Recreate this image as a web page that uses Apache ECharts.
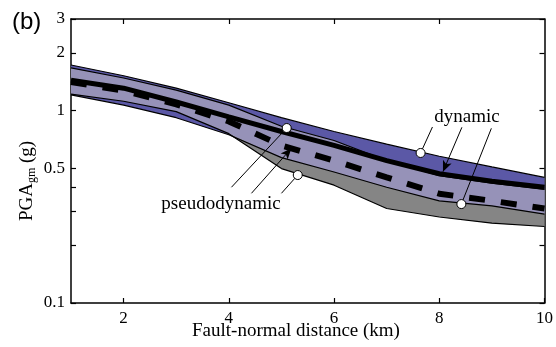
<!DOCTYPE html>
<html>
<head>
<meta charset="utf-8">
<script src="https://cdn.jsdelivr.net/npm/echarts@6/dist/echarts.min.js"></script>
<style>
html,body{margin:0;padding:0;background:#fff;}
#chart{width:556px;height:347px;}
</style>
</head>
<body>
<div id="chart"></div>
<script>
// fault-normal distance (km)
var distKm = [1, 2, 3, 4, 5, 6, 7, 8, 9, 10];
// PGA gm (g) bands
var dynUpper     = [1.73, 1.52, 1.31, 1.10, 0.92, 0.78, 0.67, 0.58, 0.51, 0.45];
var dynMedian    = [1.44, 1.31, 1.11, 0.93, 0.78, 0.66, 0.55, 0.47, 0.43, 0.40];
var dynLower     = [1.21, 1.07, 0.92, 0.75, 0.57, 0.48, 0.40, 0.34, 0.32, 0.29];
var pseudoUpper  = [1.67, 1.48, 1.28, 1.07, 0.83, 0.70, 0.55, 0.46, 0.42, 0.39];
var pseudoMedian = [1.41, 1.27, 1.08, 0.88, 0.66, 0.55, 0.45, 0.37, 0.34, 0.31];
var pseudoLower  = [1.22, 1.12, 0.99, 0.76, 0.50, 0.41, 0.31, 0.28, 0.26, 0.25];

var xTicks = [2, 4, 6, 8, 10];
var yTicks = [0.1, 0.2, 0.3, 0.4, 0.5, 1, 2, 3];
var yLabels = [0.1, 0.5, 1, 2, 3];

// little open circles on the curves
var markerX = [5.10, 5.31, 7.645, 8.42];
var markerY = [0.813, 0.463, 0.603, 0.327];

// annotation lines: [x1, y1, x2, y2, arrow]
var pointerLines = [
  [7.87, 0.823, 7.645, 0.603, 0],
  [8.43, 0.82, 8.07, 0.482, 1],
  [8.99, 0.81, 8.42, 0.327, 0],
  [4.05, 0.400, 5.10, 0.813, 0],
  [4.43, 0.372, 5.19, 0.638, 1],
  [5.00, 0.372, 5.31, 0.463, 0]
];

var blue = '#5b58a6';
var lavender = '#9692b8';
var grey = '#858585';
var serif = 'Liberation Serif';

var overlapUpper = dynUpper.map(function(v, i){ return Math.min(v, pseudoUpper[i]); });
var overlapLower = dynLower.map(function(v, i){ return Math.max(v, pseudoLower[i]); });

function pairs(ys){
  return distKm.map(function(x, i){ return [x, ys[i]]; });
}

function band(upper, lower, color, z){
  return {
    type: 'custom',
    silent: true,
    z: z,
    data: [[1, 1]],
    renderItem: function(params, api){
      var pts = [];
      for (var i = 0; i < distKm.length; i++) pts.push(api.coord([distKm[i], upper[i]]));
      for (var j = distKm.length - 1; j >= 0; j--) pts.push(api.coord([distKm[j], lower[j]]));
      return {type: 'polygon', shape: {points: pts}, style: {fill: color, stroke: null}};
    }
  };
}

function edge(ys, width, dash, z){
  return {
    type: 'line',
    data: pairs(ys),
    symbol: 'none',
    silent: true,
    z: z,
    lineStyle: {color: '#000', width: width, type: dash || 'solid', cap: 'butt'}
  };
}

var tickStyle = {color: '#000', width: 1.2};
var lineStyle = {color: '#000', width: 1.5};

var myChart = echarts.init(document.getElementById('chart'));
var option = {
  animation: false,
  grid: {left: 71, right: 11, top: 19, bottom: 44},
  xAxis: [
    {
      type: 'value', min: 1, max: 10, position: 'bottom',
      axisLine: {lineStyle: lineStyle},
      axisTick: {inside: true, length: 5, customValues: xTicks, lineStyle: tickStyle},
      axisLabel: {customValues: xTicks, color: '#000', fontFamily: serif, fontSize: 17, margin: 7},
      splitLine: {show: false}
    },
    {
      type: 'value', min: 1, max: 10, position: 'top',
      axisLine: {lineStyle: lineStyle},
      axisTick: {inside: true, length: 5, customValues: [2, 4, 6, 8], lineStyle: tickStyle},
      axisLabel: {show: false},
      splitLine: {show: false}
    }
  ],
  yAxis: [
    {
      type: 'log', logBase: 10, min: 0.1, max: 3, position: 'left',
      axisLine: {lineStyle: lineStyle},
      axisTick: {inside: true, length: 5, customValues: yTicks, lineStyle: tickStyle},
      axisLabel: {
        customValues: yLabels, color: '#000', fontFamily: serif, fontSize: 17, margin: 6,
        formatter: function(v){ return String(parseFloat(Number(v).toPrecision(3))); }
      },
      splitLine: {show: false},
      minorTick: {show: false}
    },
    {
      type: 'log', logBase: 10, min: 0.1, max: 3, position: 'right',
      axisLine: {lineStyle: lineStyle},
      axisTick: {inside: true, length: 5, customValues: yTicks, lineStyle: tickStyle},
      axisLabel: {show: false},
      splitLine: {show: false}
    }
  ],
  series: [
    band(dynUpper, dynLower, blue, 1),
    band(pseudoUpper, pseudoLower, grey, 1),
    band(overlapUpper, overlapLower, lavender, 2),
    edge(dynUpper, 1.2, null, 3),
    edge(pseudoUpper, 1.2, null, 3),
    edge(dynLower, 1.2, null, 3),
    edge(pseudoLower, 1.2, null, 3),
    edge(dynMedian, 5, null, 4),
    edge(pseudoMedian, 6, [16, 16], 5),
    {
      type: 'scatter',
      z: 8,
      silent: true,
      data: markerX.map(function(x, i){ return [x, markerY[i]]; }),
      symbol: 'circle',
      symbolSize: 9,
      itemStyle: {color: '#fff', borderColor: '#000', borderWidth: 1, opacity: 1},
      markLine: {
        silent: true,
        symbol: ['none', 'none'],
        symbolSize: [7, 11],
        label: {show: false},
        lineStyle: {color: '#000', width: 1, type: 'solid'},
        data: pointerLines.map(function(p){
          return [
            {coord: [p[0], p[1]], symbol: 'none'},
            {coord: [p[2], p[3]], symbol: p[4] ? 'arrow' : 'none'}
          ];
        })
      }
    }
  ],
  graphic: [
    {type: 'text', left: 12, top: 10, style: {text: '(b)', fontFamily: 'Liberation Sans', fontSize: 24, fill: '#000'}},
    {type: 'text', x: 467, y: 117, style: {text: 'dynamic', fontFamily: serif, fontSize: 19, fill: '#000', align: 'center', verticalAlign: 'middle'}},
    {type: 'text', x: 221, y: 204, style: {text: 'pseudodynamic', fontFamily: serif, fontSize: 19, fill: '#000', align: 'center', verticalAlign: 'middle'}},
    {type: 'text', x: 296, y: 331, style: {text: 'Fault-normal distance (km)', fontFamily: serif, fontSize: 19, fill: '#000', align: 'center', verticalAlign: 'middle'}},
    {
      type: 'text', x: 27, y: 181, rotation: Math.PI / 2,
      style: {
        text: '{a|PGA}{b|gm}{a| (g)}',
        align: 'center', verticalAlign: 'middle',
        rich: {
          a: {fontFamily: serif, fontSize: 19, fill: '#000'},
          b: {fontFamily: serif, fontSize: 12, fill: '#000', padding: [10, 0, 0, 0]}
        }
      }
    }
  ]
};
myChart.setOption(option);
</script>
</body>
</html>
